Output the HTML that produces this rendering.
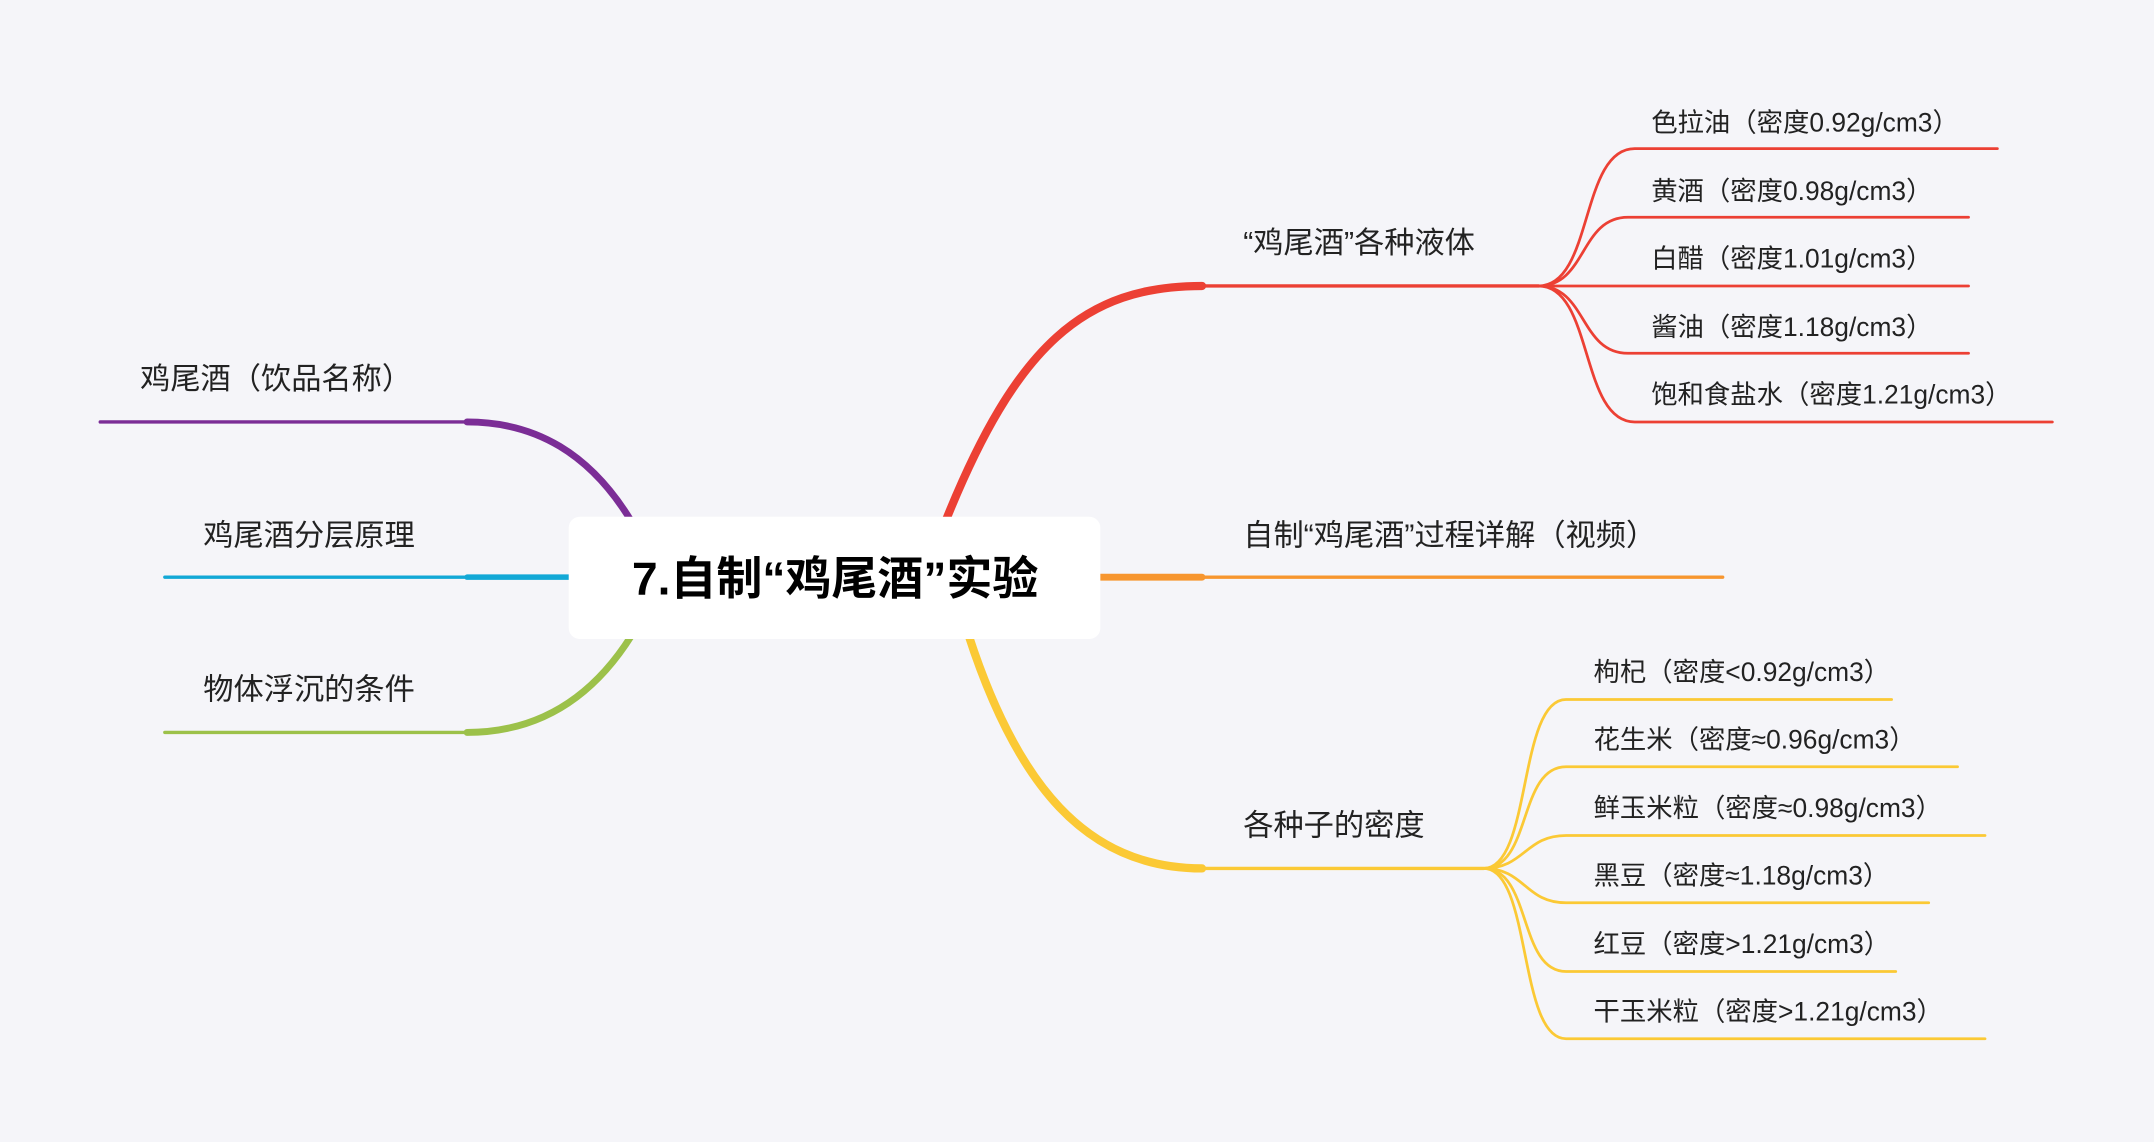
<!DOCTYPE html>
<html><head><meta charset="utf-8"><style>
html,body{margin:0;padding:0;background:#f5f5f9;}
svg{display:block}
text{font-family:"Liberation Sans","Noto Sans CJK SC",sans-serif;fill:#222;dominant-baseline:central}
.l{font-size:22px}
.c{font-size:19.2px}
</style></head><body>
<svg width="2154" height="1142" viewBox="0 0 1568 831" xmlns="http://www.w3.org/2000/svg">
<rect width="1568" height="831" fill="#f5f5f9"/>
<g fill="none" stroke-linecap="round">
<path d="M688,380 C740,250 790,208 875,208" stroke="#ec4034" stroke-width="6"/>
<path d="M875,208 H1120" stroke="#ec4034" stroke-width="2.5"/>
<g stroke="#ec4034" stroke-width="2">
<path d="M1120,208 C1160,208 1150,108 1190,108 H1454"/>
<path d="M1120,208 C1155,208 1150,158 1185,158 H1433"/>
<path d="M1120,208 H1433"/>
<path d="M1120,208 C1155,208 1150,257 1185,257 H1433"/>
<path d="M1120,208 C1160,208 1150,307 1190,307 H1494"/>
</g>
<path d="M801,420 H875" stroke="#f7962f" stroke-width="5"/>
<path d="M875,420 H1254" stroke="#f7962f" stroke-width="2.5"/>
<path d="M705,462 C740,570 790,632 875,632" stroke="#fbc935" stroke-width="6"/>
<path d="M875,632 H1080" stroke="#fbc935" stroke-width="2.5"/>
<g stroke="#fbc935" stroke-width="2">
<path d="M1080,632 C1115,632 1105,509 1140,509 H1377"/>
<path d="M1080,632 C1115,632 1105,558 1140,558 H1425"/>
<path d="M1080,632 C1110,632 1110,608 1140,608 H1445"/>
<path d="M1080,632 C1110,632 1110,657 1140,657 H1404"/>
<path d="M1080,632 C1115,632 1105,707 1140,707 H1380"/>
<path d="M1080,632 C1115,632 1105,756 1140,756 H1445"/>
</g>
<path d="M460,380 C430,330 390,307 340,307" stroke="#7b2d96" stroke-width="5"/>
<path d="M340,307 H73" stroke="#7b2d96" stroke-width="2.5"/>
<path d="M414,420 H340" stroke="#12a8d6" stroke-width="4"/>
<path d="M340,420 H120" stroke="#12a8d6" stroke-width="2.5"/>
<path d="M460,462 C430,510 390,533 340,533" stroke="#9cc14a" stroke-width="5"/>
<path d="M340,533 H120" stroke="#9cc14a" stroke-width="2.5"/>
</g>
<rect x="414" y="376" width="387" height="89" rx="8" fill="#fff"/>
<text x="608" y="421" text-anchor="middle" style="font-size:33.5px;font-weight:bold;fill:#000">7.自制“鸡尾酒”实验</text>
<text class="l" x="905" y="177">“鸡尾酒”各种液体</text>
<text class="l" x="905" y="390">自制“鸡尾酒”过程详解（视频）</text>
<text class="l" x="905" y="601">各种子的密度</text>
<text class="l" x="102" y="276">鸡尾酒（饮品名称）</text>
<text class="l" x="148" y="390">鸡尾酒分层原理</text>
<text class="l" x="148" y="502">物体浮沉的条件</text>
<text class="c" x="1202" y="89">色拉油（密度0.92g/cm3）</text>
<text class="c" x="1202" y="139">黄酒（密度0.98g/cm3）</text>
<text class="c" x="1202" y="188">白醋（密度1.01g/cm3）</text>
<text class="c" x="1202" y="238">酱油（密度1.18g/cm3）</text>
<text class="c" x="1202" y="287">饱和食盐水（密度1.21g/cm3）</text>
<text class="c" x="1160" y="489">枸杞（密度&lt;0.92g/cm3）</text>
<text class="c" x="1160" y="538">花生米（密度≈0.96g/cm3）</text>
<text class="c" x="1160" y="588">鲜玉米粒（密度≈0.98g/cm3）</text>
<text class="c" x="1160" y="637">黑豆（密度≈1.18g/cm3）</text>
<text class="c" x="1160" y="687">红豆（密度&gt;1.21g/cm3）</text>
<text class="c" x="1160" y="736">干玉米粒（密度&gt;1.21g/cm3）</text>
</svg>
</body></html>
